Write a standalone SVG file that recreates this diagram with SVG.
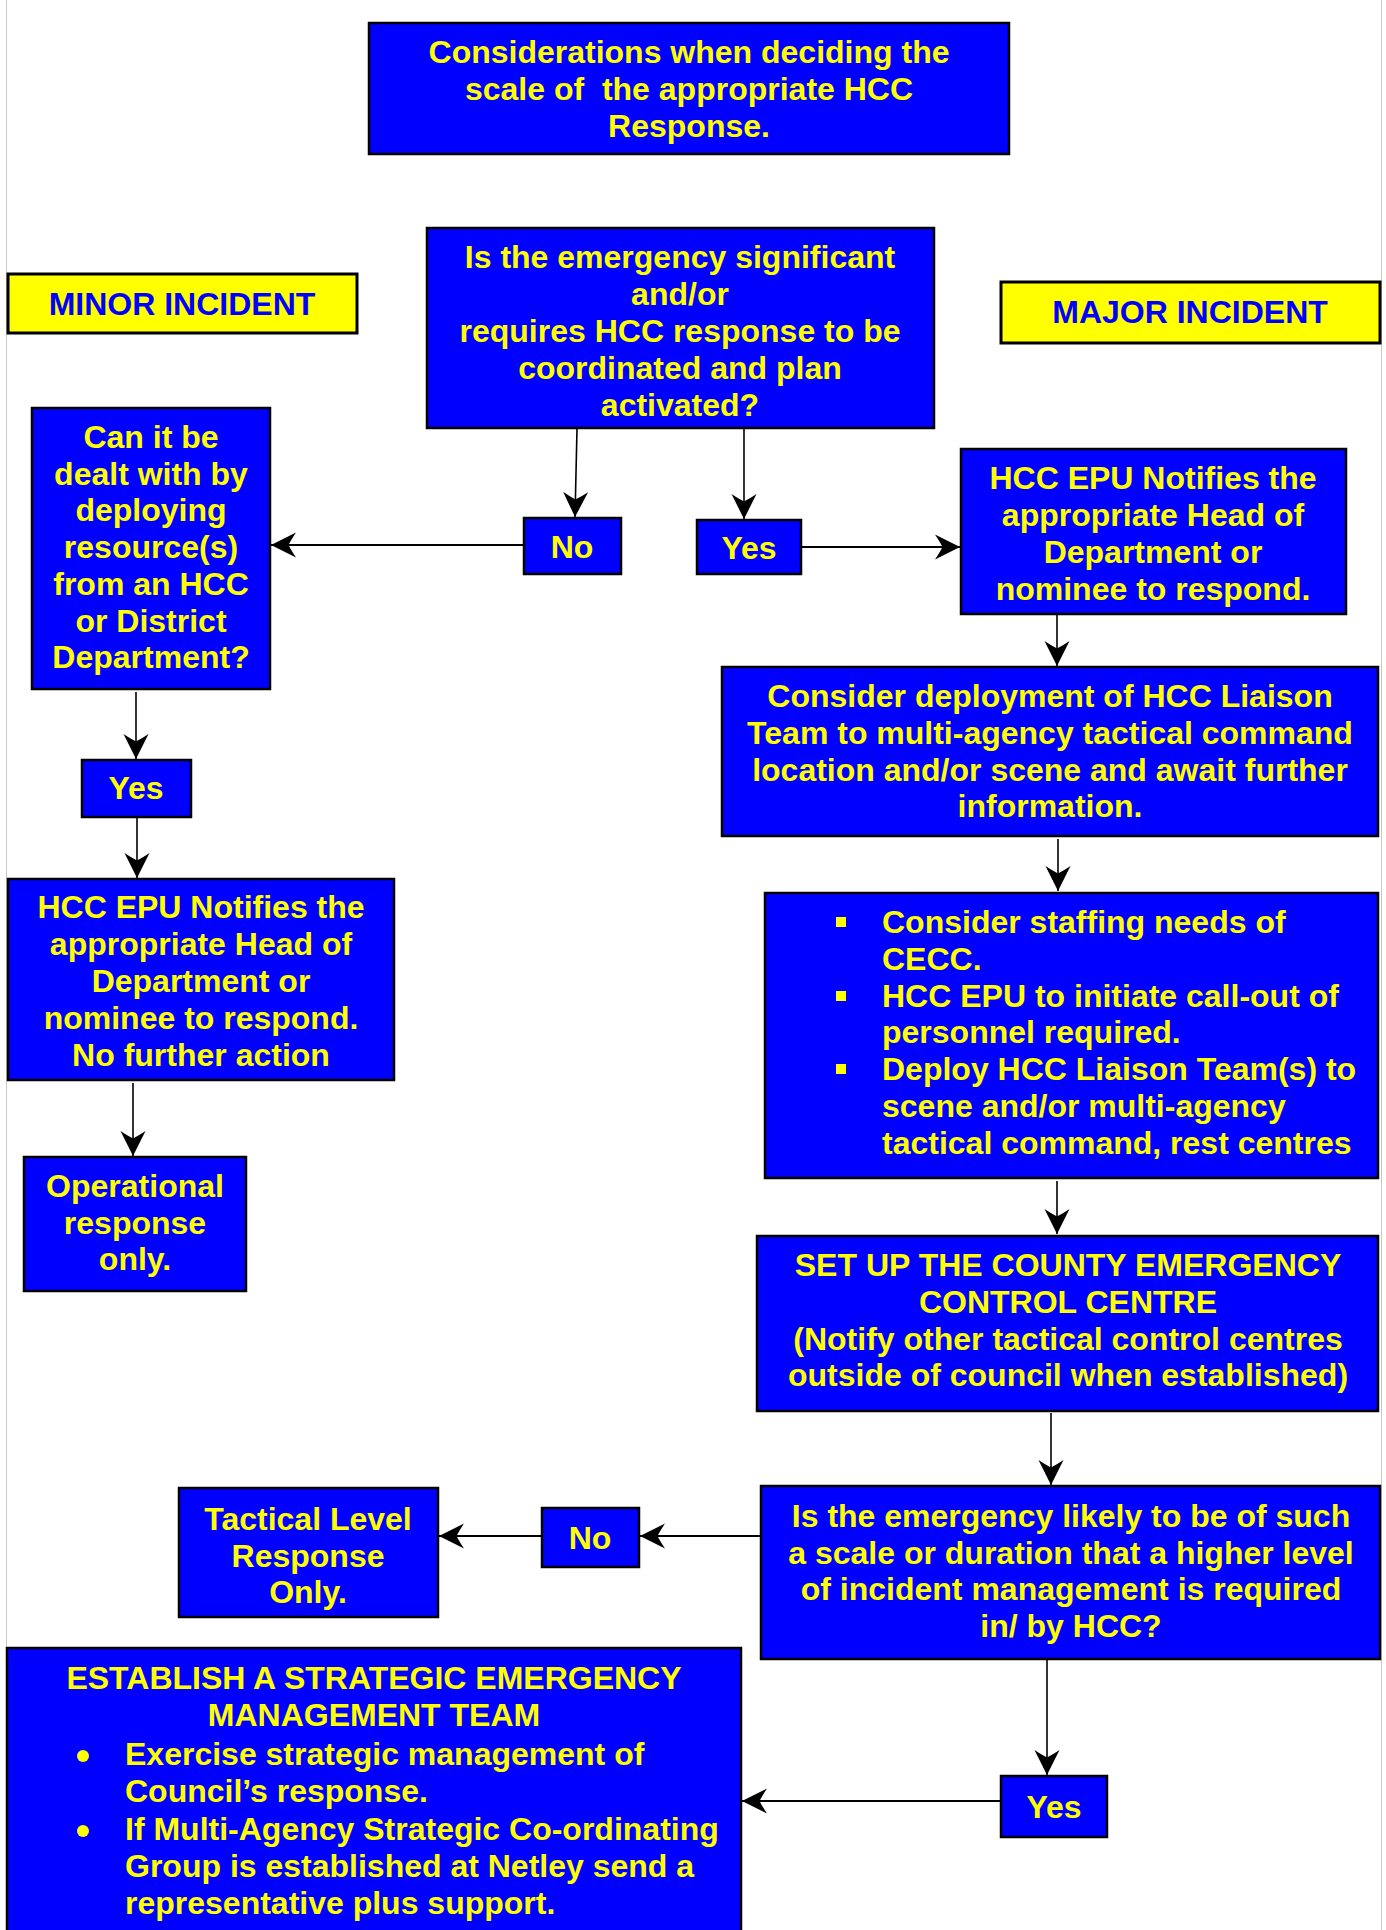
<svg xmlns="http://www.w3.org/2000/svg" width="1386" height="1930" viewBox="0 0 1386 1930">
<style>
.b{fill:#0000FF;stroke:#000;stroke-width:2.5}
.y{fill:#FFFF00;stroke:#000;stroke-width:3}
text{font-family:"Liberation Sans",Arial,sans-serif;font-weight:bold;font-size:32px}
.t{fill:#FFFF00;text-anchor:middle}
.tl{fill:#FFFF00}
.bt{fill:#0000FF;text-anchor:middle}
.c{stroke:#000;fill:none}
.v{stroke-width:1.6}
.h{stroke-width:2.2}
</style>
<defs>
<marker id="ah" viewBox="0 0 26 26" markerWidth="26" markerHeight="26" markerUnits="userSpaceOnUse" refX="25" refY="13" orient="auto">
<path d="M25,13 L0,0.5 Q5,8 7.5,13 Q5,18 0,25.5 Z" fill="#000"/>
</marker>
</defs>
<rect width="1386" height="1930" fill="#fff"/>
<line x1="6.5" y1="0" x2="6.5" y2="1930" stroke="#c8c8c8" stroke-width="1"/>
<line x1="1381.5" y1="0" x2="1381.5" y2="1930" stroke="#c8c8c8" stroke-width="1"/>

<g id="connectors">
<line class="c v" x1="577" y1="429" x2="575" y2="517" marker-end="url(#ah)"/>
<line class="c v" x1="744" y1="429" x2="744" y2="519" marker-end="url(#ah)"/>
<line class="c h" x1="524" y1="545" x2="271" y2="545" marker-end="url(#ah)"/>
<line class="c h" x1="801" y1="547" x2="960" y2="547" marker-end="url(#ah)"/>
<line class="c v" x1="1057" y1="614" x2="1057" y2="666" marker-end="url(#ah)"/>
<line class="c v" x1="136" y1="692" x2="136" y2="759" marker-end="url(#ah)"/>
<line class="c v" x1="137" y1="817" x2="137" y2="878" marker-end="url(#ah)"/>
<line class="c v" x1="133" y1="1083" x2="133" y2="1156" marker-end="url(#ah)"/>
<line class="c v" x1="1058" y1="839" x2="1058" y2="891" marker-end="url(#ah)"/>
<line class="c v" x1="1057" y1="1181" x2="1057" y2="1234" marker-end="url(#ah)"/>
<line class="c v" x1="1051" y1="1413" x2="1051" y2="1485" marker-end="url(#ah)"/>
<line class="c h" x1="761" y1="1536" x2="640" y2="1536" marker-end="url(#ah)"/>
<line class="c h" x1="542" y1="1536" x2="439" y2="1536" marker-end="url(#ah)"/>
<line class="c v" x1="1047" y1="1659" x2="1047" y2="1775" marker-end="url(#ah)"/>
<line class="c h" x1="1001" y1="1801" x2="742" y2="1801" marker-end="url(#ah)"/>
</g>

<g id="title">
<rect class="b" x="369" y="23" width="640" height="131"/>
<text class="t" x="689" y="63">Considerations when deciding the</text>
<text class="t" x="689" y="100" xml:space="preserve">scale of  the appropriate HCC</text>
<text class="t" x="689" y="137">Response.</text>
</g>

<g id="q1">
<rect class="b" x="427" y="228" width="507" height="200"/>
<text class="t" x="680" y="268">Is the emergency significant</text>
<text class="t" x="680" y="305">and/or</text>
<text class="t" x="680" y="342">requires HCC response to be</text>
<text class="t" x="680" y="379">coordinated and plan</text>
<text class="t" x="680" y="416">activated?</text>
</g>

<g id="minor">
<rect class="y" x="8" y="274" width="349" height="59"/>
<text class="bt" x="182" y="315">MINOR INCIDENT</text>
</g>

<g id="major">
<rect class="y" x="1001" y="282" width="379" height="61"/>
<text class="bt" x="1190" y="323">MAJOR INCIDENT</text>
</g>

<g id="canit">
<rect class="b" x="32" y="408" width="238" height="281"/>
<text class="t" x="151" y="448">Can it be</text>
<text class="t" x="151" y="485">dealt with by</text>
<text class="t" x="151" y="521">deploying</text>
<text class="t" x="151" y="558">resource(s)</text>
<text class="t" x="151" y="595">from an HCC</text>
<text class="t" x="151" y="632">or District</text>
<text class="t" x="151" y="668">Department?</text>
</g>

<g id="no1">
<rect class="b" x="524" y="518" width="97" height="56"/>
<text class="t" x="572" y="558">No</text>
</g>

<g id="yes1">
<rect class="b" x="697" y="520" width="104" height="54"/>
<text class="t" x="749" y="559">Yes</text>
</g>

<g id="hccR">
<rect class="b" x="961" y="449" width="385" height="165"/>
<text class="t" x="1153" y="489">HCC EPU Notifies the</text>
<text class="t" x="1153" y="526">appropriate Head of</text>
<text class="t" x="1153" y="563">Department or</text>
<text class="t" x="1153" y="600">nominee to respond.</text>
</g>

<g id="consider">
<rect class="b" x="722" y="667" width="656" height="169"/>
<text class="t" x="1050" y="707">Consider deployment of HCC Liaison</text>
<text class="t" x="1050" y="744">Team to multi-agency tactical command</text>
<text class="t" x="1050" y="781">location and/or scene and await further</text>
<text class="t" x="1050" y="817">information.</text>
</g>

<g id="yesL">
<rect class="b" x="82" y="760" width="109" height="57"/>
<text class="t" x="136" y="799">Yes</text>
</g>

<g id="hccL">
<rect class="b" x="8" y="879" width="386" height="201"/>
<text class="t" x="201" y="918">HCC EPU Notifies the</text>
<text class="t" x="201" y="955">appropriate Head of</text>
<text class="t" x="201" y="992">Department or</text>
<text class="t" x="201" y="1029">nominee to respond.</text>
<text class="t" x="201" y="1066">No further action</text>
</g>

<g id="oper">
<rect class="b" x="24" y="1157" width="222" height="134"/>
<text class="t" x="135" y="1197">Operational</text>
<text class="t" x="135" y="1234">response</text>
<text class="t" x="135" y="1270">only.</text>
</g>

<g id="staffing">
<rect class="b" x="765" y="893" width="613" height="285"/>
<rect x="836" y="917" width="10" height="10" fill="#FFFF00"/>
<rect x="836" y="991" width="10" height="10" fill="#FFFF00"/>
<rect x="836" y="1064" width="10" height="10" fill="#FFFF00"/>
<text class="tl" x="882" y="933">Consider staffing needs of</text>
<text class="tl" x="882" y="970">CECC.</text>
<text class="tl" x="882" y="1007">HCC EPU to initiate call-out of</text>
<text class="tl" x="882" y="1043">personnel required.</text>
<text class="tl" x="882" y="1080">Deploy HCC Liaison Team(s) to</text>
<text class="tl" x="882" y="1117">scene and/or multi-agency</text>
<text class="tl" x="882" y="1154">tactical command, rest centres</text>
</g>

<g id="setup">
<rect class="b" x="757" y="1236" width="621" height="175"/>
<text class="t" x="1068" y="1276">SET UP THE COUNTY EMERGENCY</text>
<text class="t" x="1068" y="1313">CONTROL CENTRE</text>
<text class="t" x="1068" y="1350">(Notify other tactical control centres</text>
<text class="t" x="1068" y="1386">outside of council when established)</text>
</g>

<g id="q2">
<rect class="b" x="761" y="1486" width="619" height="173"/>
<text class="t" x="1071" y="1527">Is the emergency likely to be of such</text>
<text class="t" x="1071" y="1564">a scale or duration that a higher level</text>
<text class="t" x="1071" y="1600">of incident management is required</text>
<text class="t" x="1071" y="1637">in/ by HCC?</text>
</g>

<g id="no2">
<rect class="b" x="542" y="1508" width="97" height="59"/>
<text class="t" x="590" y="1549">No</text>
</g>

<g id="tactical">
<rect class="b" x="179" y="1488" width="259" height="129"/>
<text class="t" x="308" y="1530">Tactical Level</text>
<text class="t" x="308" y="1567">Response</text>
<text class="t" x="308" y="1603">Only.</text>
</g>

<g id="yes2">
<rect class="b" x="1001" y="1776" width="106" height="61"/>
<text class="t" x="1054" y="1818">Yes</text>
</g>

<g id="establish">
<rect class="b" x="7" y="1648" width="734" height="300"/>
<text class="t" x="374" y="1689">ESTABLISH A STRATEGIC EMERGENCY</text>
<text class="t" x="374" y="1726">MANAGEMENT TEAM</text>
<circle cx="83" cy="1756" r="6" fill="#FFFF00"/>
<circle cx="83" cy="1831" r="6" fill="#FFFF00"/>
<text class="tl" x="125" y="1765">Exercise strategic management of</text>
<text class="tl" x="125" y="1802">Council’s response.</text>
<text class="tl" x="125" y="1840">If Multi-Agency Strategic Co-ordinating</text>
<text class="tl" x="125" y="1877">Group is established at Netley send a</text>
<text class="tl" x="125" y="1914">representative plus support.</text>
</g>
</svg>
